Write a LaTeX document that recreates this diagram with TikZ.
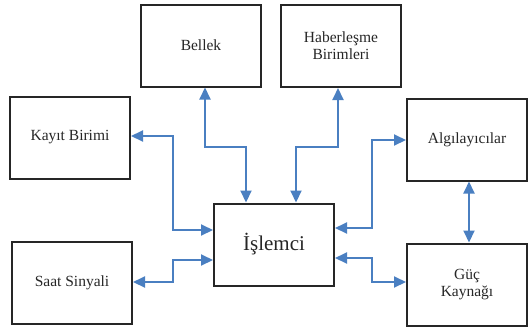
\documentclass[tikz,border=0pt]{standalone}
\usepackage{fontspec}
\setmainfont{Liberation Serif}
\usetikzlibrary{arrows.meta}
\definecolor{arr}{HTML}{4A7FC1}
\begin{document}
\begin{tikzpicture}[x=1pt,y=-1pt,
  box/.style={draw=black!85,line width=2pt,minimum width=120pt,minimum height=82pt,align=center,font=\fontsize{15.5}{17}\selectfont,text=black!85,inner sep=0pt},
  link/.style={draw=arr,line width=2pt,{Triangle[length=12pt,width=11pt]}-{Triangle[length=12pt,width=11pt]}}]
\useasboundingbox (0,0) rectangle (530,333);
\node[box] (bel) at (201,45.5) {Bellek};
\node[box] (hab) at (341,46) {Haberleşme\\Birimleri};
\node[box] (kay) at (70,137.5) {Kayıt Birimi};
\node[box] (alg) at (467,139.5) {Algılayıcılar};
\node[box,font=\fontsize{21}{23}\selectfont] (isl) at (274,244.5) {İşlemci};
\node[box] (saa) at (72,283) {Saat Sinyali};
\node[box] (guc) at (467,284.5) {Güç\\Kaynağı};
\coordinate (k1) at (173,0);
\draw[link] (kay.east |- 0,136) -| (k1 |- 0,230) -- (isl.west |- 0,230);
\draw[link] (bel.south -| 205,0) |- (246,147) -- (isl.north -| 246,0);
\draw[link] (hab.south -| 338,0) |- (296,147) -- (isl.north -| 296,0);
\draw[link] (alg.west |- 0,140) -| (372,228) -- (isl.east |- 0,228);
\draw[link] (saa.east |- 0,282) -| (173,260) -- (isl.west |- 0,260);
\draw[link] (isl.east |- 0,258) -| (372,282) -- (guc.west |- 0,282);
\draw[link] (alg.south -| 469,0) -- (guc.north -| 469,0);
\end{tikzpicture}
\end{document}
